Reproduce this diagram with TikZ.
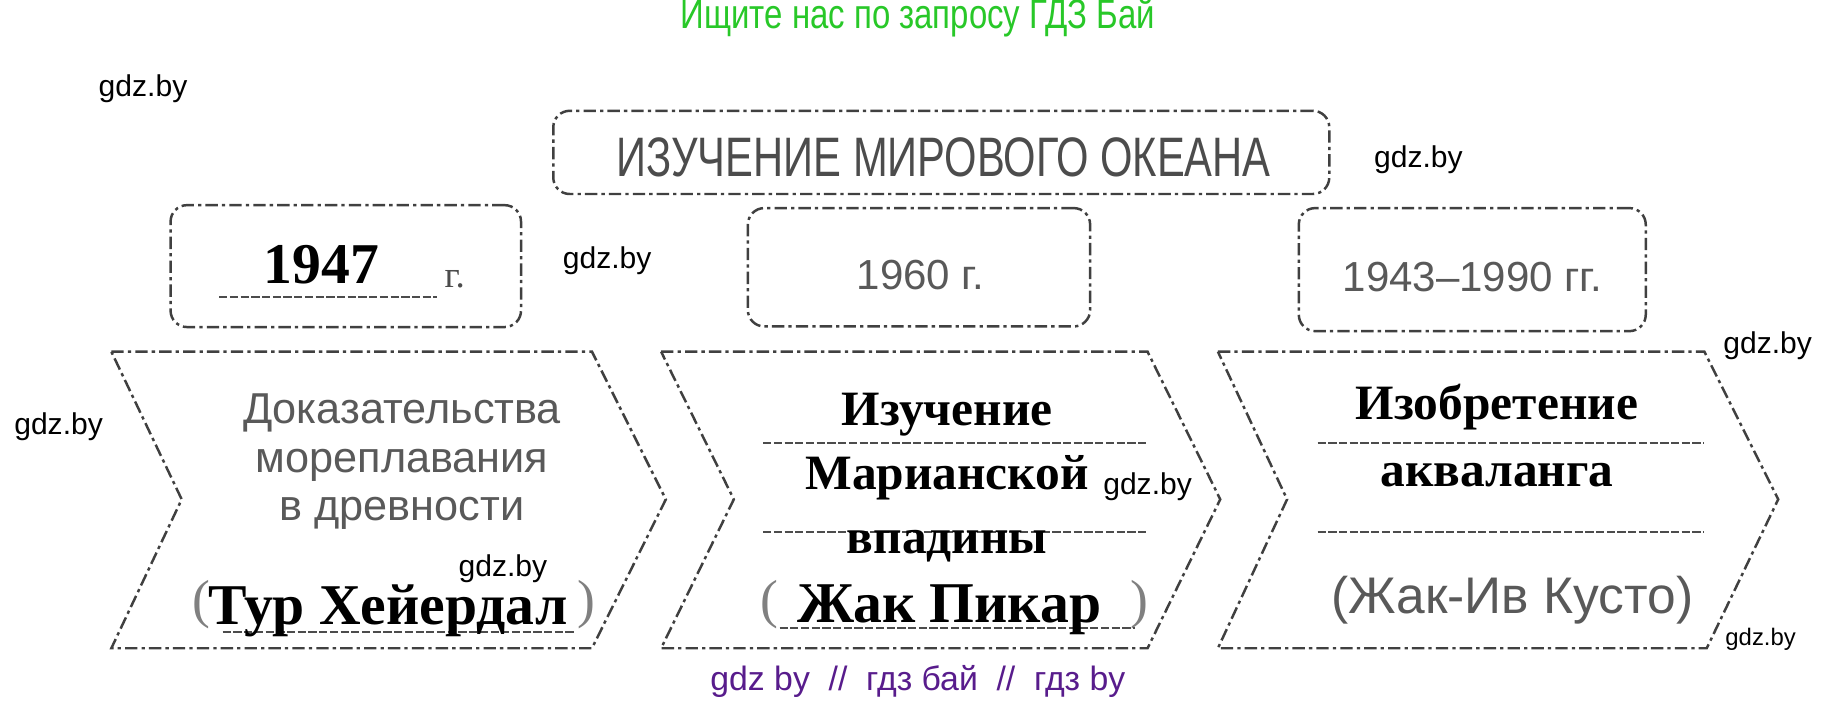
\documentclass[tikz,border=0pt]{standalone}
\usepackage{fontspec}
\setmainfont{Liberation Serif}
\setsansfont{Liberation Sans}
\newfontfamily\narrowfont[FakeStretch=0.75]{Liberation Sans}
\newfontfamily\condfont[FakeStretch=0.8]{Liberation Sans}
\usepackage{xcolor}
\definecolor{gdzgreen}{RGB}{40,200,40}
\definecolor{gdzpurple}{RGB}{88,28,140}

\begin{document}
\begin{tikzpicture}[x=0.1mm,y=-0.1mm]

	\tikzstyle{frame} = [draw=black!75,line width=0.6pt,dash pattern=on 3pt off 1pt on 0.8pt off 1pt]
	\tikzstyle{yearbox} = [frame,rounded corners=4pt,inner sep=0pt]
	\tikzstyle{writeline} = [draw=black!70,line width=0.5pt,dash pattern=on 2pt off 0.6pt]
	\tikzstyle{printed} = [anchor=base,font=\fontsize{12}{14}\selectfont\bfseries]
	\tikzstyle{bigprinted} = [anchor=base,font=\fontsize{14}{16}\selectfont\bfseries]
	\tikzstyle{hand} = [black!65,font=\sffamily\fontsize{10.2}{11.6}\selectfont]
	\tikzstyle{paren} = [black!50,font=\fontsize{13}{15}\selectfont]
	\tikzstyle{wmark} = [font=\sffamily\fontsize{7.3}{8}\selectfont]

	\useasboundingbox (0,0) rectangle (1568,599);
	\fill[white] (0,0) rectangle (1568,599);

	% header and footer
	\node[gdzgreen,font=\condfont\fontsize{10}{11}\selectfont] (search) at (783,15) {Ищите нас по запросу ГДЗ Бай};
	\node[gdzpurple,font=\sffamily\fontsize{8.2}{9}\selectfont] (footer) at (783,581) {gdz by \ // \ гдз бай \ // \ гдз by};

	% topic
	\node[yearbox,minimum width=66.2mm,minimum height=7.1mm] (topic) at (803,130) {};
	\node[black!70,font=\narrowfont\fontsize{13.5}{15}\selectfont] (topictext) at (805,134) {ИЗУЧЕНИЕ МИРОВОГО ОКЕАНА};

	% years
	\node[yearbox,minimum width=29.9mm,minimum height=10.4mm] (year1) at (295,227) {};
	\node[bigprinted] (y1947) at (274,242) {1947};
	\node[black!70,font=\fontsize{9}{10}\selectfont] (y1947g) at (388,238) {г.};
	\draw[writeline] (187,253) -- (373,253);

	\node[yearbox,minimum width=29.2mm,minimum height=10.1mm] (year2) at (784,228) {};
	\node[hand] (y1960) at (785,235) {1960 г.};

	\node[yearbox,minimum width=29.6mm,minimum height=10.5mm] (year3) at (1256,230) {};
	\node[hand] (y1943) at (1256,236) {1943–1990 гг.};

	% arrows
	\draw[frame] (95,300) -- (505,300) -- (568,426) -- (505,553) -- (95,553) -- (155,426) -- cycle;
	\draw[frame] (564,300) -- (979,300) -- (1041,426) -- (979,553) -- (564,553) -- (626,426) -- cycle;
	\draw[frame] (1039,300) -- (1454,300) -- (1517,426) -- (1456,553) -- (1039,553) -- (1098,426) -- cycle;

	% first arrow
	\node[hand,align=center,font=\sffamily\fontsize{10.5}{11.8}\selectfont] (proof) at (343,394) {Доказательства\\мореплавания\\в древности};
	\node[paren] (p1l) at (172,516) {(};
	\node[paren] (p1r) at (500,516) {)};
	\draw[writeline] (190,539) -- (490,539);
	\node[bigprinted] (heyerdahl) at (331,533) {Тур Хейердал};

	% second arrow
	\draw[writeline] (651,378) -- (979,378);
	\draw[writeline] (651,454) -- (979,454);
	\node[printed] (trench1) at (808,363) {Изучение};
	\node[printed] (trench2) at (808,418) {Марианской};
	\node[printed] (trench3) at (808,472) {впадины};
	\node[paren] (p2l) at (656,516) {(};
	\node[paren] (p2r) at (972,516) {)};
	\draw[writeline] (665,536) -- (968,536);
	\node[bigprinted] (piccard) at (810,531) {Жак Пикар};

	% third arrow
	\draw[writeline] (1124,378) -- (1454,378);
	\draw[writeline] (1124,454) -- (1454,454);
	\node[printed] (aqua1) at (1277,358) {Изобретение};
	\node[printed] (aqua2) at (1277,415) {акваланга};
	\node[hand,font=\sffamily\fontsize{12.5}{14}\selectfont] (cousteau) at (1290,512) {(Жак-Ив Кусто)};

	% watermarks
	\node[wmark] (wm1) at (122,76) {gdz.by};
	\node[wmark] (wm2) at (1210,136) {gdz.by};
	\node[wmark] (wm3) at (518,222) {gdz.by};
	\node[wmark] (wm4) at (1508,295) {gdz.by};
	\node[wmark] (wm5) at (50,364) {gdz.by};
	\node[wmark] (wm6) at (979,415) {gdz.by};
	\node[wmark] (wm7) at (429,485) {gdz.by};
	\node[wmark,font=\sffamily\fontsize{5.8}{7}\selectfont] (wm8) at (1502,545) {gdz.by};

\end{tikzpicture}
\end{document}
